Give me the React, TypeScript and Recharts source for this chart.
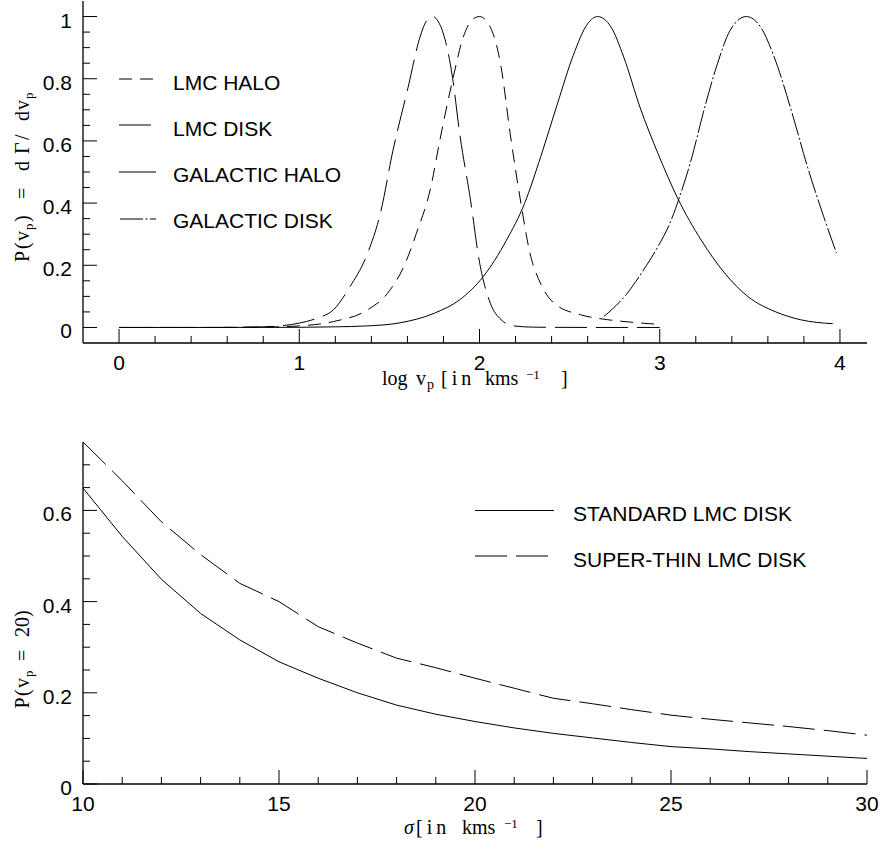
import React from 'react';
import { LineChart, Line, XAxis, YAxis } from 'recharts';

// ---------- TOP PANEL DATA (log v_p vs P(v_p)) ----------
const lmcHaloX = [0, 0.5, 0.8, 1.0, 1.19, 1.38, 1.49, 1.58, 1.65, 1.73, 1.78, 1.85, 1.91, 1.96, 2.0, 2.06, 2.12, 2.17, 2.23, 2.28, 2.34, 2.42, 2.56, 2.71, 2.84, 2.97];
const lmcHaloY = [0, 0, 0.001, 0.005, 0.019, 0.057, 0.11, 0.196, 0.303, 0.452, 0.602, 0.794, 0.934, 0.99, 1.0, 0.966, 0.837, 0.624, 0.399, 0.239, 0.14, 0.075, 0.041, 0.025, 0.017, 0.011];

const lmcDiskX = [0, 0.5, 0.8, 1.0, 1.1, 1.19, 1.28, 1.38, 1.45, 1.52, 1.6, 1.67, 1.7, 1.74, 1.77, 1.8, 1.85, 1.89, 1.95, 2.0, 2.06, 2.12, 2.19, 2.3, 2.6, 3.0];
const lmcDiskY = [0, 0, 0.002, 0.014, 0.03, 0.057, 0.13, 0.24, 0.367, 0.57, 0.763, 0.934, 0.98, 1.0, 0.985, 0.944, 0.805, 0.624, 0.41, 0.21, 0.078, 0.025, 0.005, 0.001, 0, 0];

const galHaloX = [0, 0.5, 1.0, 1.2, 1.38, 1.56, 1.75, 1.89, 2.02, 2.15, 2.25, 2.34, 2.43, 2.52, 2.6, 2.655, 2.73, 2.8, 2.89, 2.99, 3.1, 3.23, 3.36, 3.49, 3.64, 3.78, 3.96];
const galHaloY = [0, 0, 0.0005, 0.002, 0.005, 0.015, 0.046, 0.089, 0.163, 0.281, 0.399, 0.55, 0.715, 0.875, 0.977, 1.0, 0.966, 0.87, 0.709, 0.56, 0.415, 0.281, 0.175, 0.099, 0.051, 0.025, 0.012];

const galDiskX = [2.69, 2.82, 2.91, 2.99, 3.06, 3.11, 3.17, 3.25, 3.32, 3.39, 3.48, 3.56, 3.635, 3.73, 3.82, 3.91, 3.98];
const galDiskY = [0.035, 0.11, 0.185, 0.26, 0.34, 0.42, 0.53, 0.709, 0.848, 0.955, 1.0, 0.966, 0.87, 0.698, 0.516, 0.356, 0.24];

const topXTicks = [0, 0.2, 0.4, 0.6, 0.8, 1, 1.2, 1.4, 1.6, 1.8, 2, 2.2, 2.4, 2.6, 2.8, 3, 3.2, 3.4, 3.6, 3.8, 4];
const topXMajor = [0, 1, 2, 3, 4];
const topYTicks = [0, 0.05, 0.1, 0.15, 0.2, 0.25, 0.3, 0.35, 0.4, 0.45, 0.5, 0.55, 0.6, 0.65, 0.7, 0.75, 0.8, 0.85, 0.9, 0.95, 1];
const topYMajor = [0, 0.2, 0.4, 0.6, 0.8, 1];

const topLegendNames = ['LMC HALO', 'LMC DISK', 'GALACTIC HALO', 'GALACTIC DISK'];

// ---------- BOTTOM PANEL DATA (sigma vs P(v_p = 20)) ----------
const sigma = [10, 11, 12, 13, 14, 15, 16, 17, 18, 19, 20, 21, 22, 23, 24, 25, 26, 27, 28, 29, 30];
const standardDisk = [0.649, 0.543, 0.449, 0.374, 0.316, 0.268, 0.232, 0.2, 0.173, 0.153, 0.137, 0.123, 0.111, 0.101, 0.091, 0.082, 0.077, 0.071, 0.066, 0.061, 0.056];
const superThinDisk = [0.75, 0.665, 0.575, 0.503, 0.44, 0.4, 0.345, 0.309, 0.276, 0.255, 0.232, 0.21, 0.188, 0.176, 0.163, 0.151, 0.142, 0.134, 0.126, 0.117, 0.107];

const botXTicks = [10, 11, 12, 13, 14, 15, 16, 17, 18, 19, 20, 21, 22, 23, 24, 25, 26, 27, 28, 29, 30];
const botXMajor = [10, 15, 20, 25, 30];
const botYTicks = [0, 0.05, 0.1, 0.15, 0.2, 0.25, 0.3, 0.35, 0.4, 0.45, 0.5, 0.55, 0.6, 0.65, 0.7];
const botYMajor = [0, 0.2, 0.4, 0.6];

const botLegendNames = ['STANDARD LMC DISK', 'SUPER-THIN LMC DISK'];

// ---------- helpers ----------
const zip = (xs: number[], ys: number[]) => xs.map((x, i) => ({ x, y: ys[i] }));
const topSeries = {
  lmcHalo: zip(lmcHaloX, lmcHaloY),
  lmcDisk: zip(lmcDiskX, lmcDiskY),
  galHalo: zip(galHaloX, galHaloY),
  galDisk: zip(galDiskX, galDiskY),
};
const botData = sigma.map((s, i) => ({ s, std: standardDisk[i], thin: superThinDisk[i] }));

const SANS = '"Liberation Sans", Arial, Helvetica, sans-serif';
const SERIF = '"Liberation Serif", "Times New Roman", serif';
const INK = '#000';

const DASH_LMC_HALO = '13 8';
const DASH_LMC_DISK = '32 9';
const DASH_GAL_DISK = '23 2.5 2 2.5';

const fmt = (v: number) => String(Number(v.toFixed(2)));
const isMajor = (v: number, majors: number[]) => majors.some((m) => Math.abs(m - v) < 1e-6);

const makeTick = (side: 'bottom' | 'top' | 'left' | 'right', majors: number[], showLabel: boolean) =>
  (props: any) => {
    const { x, y, payload } = props;
    const v = payload.value as number;
    const major = isMajor(v, majors);
    const len = major ? 14 : 7;
    let line;
    let label = null;
    if (side === 'bottom') {
      line = <line x1={x} y1={y} x2={x} y2={y - len} stroke={INK} strokeWidth={1} />;
      if (major && showLabel)
        label = (
          <text x={x} y={y + 27} textAnchor="middle" fontFamily={SANS} fontSize={21} fill={INK}>
            {fmt(v)}
          </text>
        );
    } else if (side === 'top') {
      line = <line x1={x} y1={y} x2={x} y2={y + len} stroke={INK} strokeWidth={1} />;
    } else if (side === 'left') {
      line = <line x1={x} y1={y} x2={x + len} y2={y} stroke={INK} strokeWidth={1} />;
      if (major && showLabel)
        label = (
          <text x={x - 11} y={y + 11} textAnchor="end" fontFamily={SANS} fontSize={21} fill={INK}>
            {fmt(v)}
          </text>
        );
    } else {
      line = <line x1={x} y1={y} x2={x - len} y2={y} stroke={INK} strokeWidth={1} />;
    }
    return (
      <g>
        {line}
        {label}
      </g>
    );
  };

const axisLine = { stroke: INK, strokeWidth: 1.3 };

const TopChart = () => (
  <LineChart width={881} height={400} margin={{ top: 1, right: 14, bottom: 0, left: 0 }}>
    <XAxis
      xAxisId={0}
      type="number"
      dataKey="x"
      domain={[-0.2, 4.15]}
      allowDataOverflow
      ticks={topXTicks}
      interval={0}
      height={57}
      tickSize={0}
      tickMargin={0}
      tickLine={false}
      axisLine={axisLine}
      tick={makeTick('bottom', topXMajor, true)}
    />
    <XAxis
      xAxisId="top"
      orientation="top"
      type="number"
      dataKey="x"
      domain={[-0.2, 4.15]}
      allowDataOverflow
      ticks={topXTicks}
      interval={0}
      height={0}
      tickSize={0}
      tickMargin={0}
      tickLine={false}
      axisLine={axisLine}
      tick={makeTick('top', topXMajor, false)}
    />
    <YAxis
      yAxisId={0}
      type="number"
      domain={[-0.05, 1.05]}
      allowDataOverflow
      ticks={topYTicks}
      interval={0}
      width={83}
      tickSize={0}
      tickMargin={0}
      tickLine={false}
      axisLine={axisLine}
      tick={makeTick('left', topYMajor, true)}
    />
    <YAxis
      yAxisId="right"
      orientation="right"
      type="number"
      domain={[-0.05, 1.05]}
      allowDataOverflow
      ticks={topYTicks}
      interval={0}
      width={0}
      tickSize={0}
      tickMargin={0}
      tickLine={false}
      axisLine={axisLine}
      tick={makeTick('right', topYMajor, false)}
    />
    <Line data={topSeries.lmcHalo} dataKey="y" name={topLegendNames[0]} type="monotone" stroke={INK} strokeWidth={1} strokeDasharray={DASH_LMC_HALO} dot={false} isAnimationActive={false} />
    <Line data={topSeries.lmcDisk} dataKey="y" name={topLegendNames[1]} type="monotone" stroke={INK} strokeWidth={1} strokeDasharray={DASH_LMC_DISK} dot={false} isAnimationActive={false} />
    <Line data={topSeries.galHalo} dataKey="y" name={topLegendNames[2]} type="monotone" stroke={INK} strokeWidth={1} dot={false} isAnimationActive={false} />
    <Line data={topSeries.galDisk} dataKey="y" name={topLegendNames[3]} type="monotone" stroke={INK} strokeWidth={1} strokeDasharray={DASH_GAL_DISK} dot={false} isAnimationActive={false} />

    {/* legend */}
    <g>
      <line x1={119} y1={79} x2={154} y2={79} stroke={INK} strokeWidth={1} strokeDasharray={DASH_LMC_HALO} />
      <line x1={119} y1={125} x2={151} y2={125} stroke={INK} strokeWidth={1} strokeDasharray={DASH_LMC_DISK} />
      <line x1={119} y1={172} x2={156} y2={172} stroke={INK} strokeWidth={1} />
      <line x1={120} y1={219} x2={156} y2={219} stroke={INK} strokeWidth={1} strokeDasharray={DASH_GAL_DISK} />
      {topLegendNames.map((n, i) => (
        <text key={n} x={173} y={89.5 + i * 46.3} fontFamily={SANS} fontSize={21} fill={INK}>
          {n}
        </text>
      ))}
    </g>

    {/* x axis label */}
    <text y={385} fontFamily={SERIF} fontSize={20} fill={INK}>
      <tspan x={382}>log</tspan>
      <tspan x={416}>v</tspan>
      <tspan x={427} y={389} fontSize={14}>p</tspan>
      <tspan x={441} y={385} letterSpacing={4}>[in</tspan>
      <tspan x={485}>kms</tspan>
      <tspan x={526} y={379} fontSize={13}>−1</tspan>
      <tspan x={561} y={385}>]</tspan>
    </text>

    {/* y axis label */}
    <g transform="translate(28.5,0) rotate(-90)">
      <text y={0} fontFamily={SERIF} fontSize={20} fill={INK}>
        <tspan x={-262}>P</tspan>
        <tspan x={-249}>(</tspan>
        <tspan x={-241}>v</tspan>
        <tspan x={-230} y={4} fontSize={13}>p</tspan>
        <tspan x={-222} y={0}>)</tspan>
        <tspan x={-199}>=</tspan>
        <tspan x={-171}>d</tspan>
        <tspan x={-154}>Γ</tspan>
        <tspan x={-140}>/</tspan>
        <tspan x={-121}>d</tspan>
        <tspan x={-110}>v</tspan>
        <tspan x={-99} y={4} fontSize={13}>p</tspan>
      </text>
    </g>
  </LineChart>
);

const BottomChart = () => (
  <LineChart width={881} height={423} data={botData} margin={{ top: 22, right: 14, bottom: 0, left: 0 }}>
    <XAxis
      xAxisId={0}
      type="number"
      dataKey="s"
      domain={[10, 30]}
      allowDataOverflow
      ticks={botXTicks}
      interval={0}
      height={59}
      tickSize={0}
      tickMargin={0}
      tickLine={false}
      axisLine={axisLine}
      tick={makeTick('bottom', botXMajor, true)}
    />
    <XAxis
      xAxisId="top"
      orientation="top"
      type="number"
      dataKey="s"
      domain={[10, 30]}
      allowDataOverflow
      ticks={botXTicks}
      interval={0}
      height={0}
      tickSize={0}
      tickMargin={0}
      tickLine={false}
      axisLine={axisLine}
      tick={makeTick('top', botXMajor, false)}
    />
    <YAxis
      yAxisId={0}
      type="number"
      domain={[0, 0.75]}
      allowDataOverflow
      ticks={botYTicks}
      interval={0}
      width={83}
      tickSize={0}
      tickMargin={0}
      tickLine={false}
      axisLine={axisLine}
      tick={makeTick('left', botYMajor, true)}
    />
    <YAxis
      yAxisId="right"
      orientation="right"
      type="number"
      domain={[0, 0.75]}
      allowDataOverflow
      ticks={botYTicks}
      interval={0}
      width={0}
      tickSize={0}
      tickMargin={0}
      tickLine={false}
      axisLine={axisLine}
      tick={makeTick('right', botYMajor, false)}
    />
    <Line dataKey="std" name={botLegendNames[0]} type="linear" stroke={INK} strokeWidth={1} dot={false} isAnimationActive={false} />
    <Line dataKey="thin" name={botLegendNames[1]} type="linear" stroke={INK} strokeWidth={1} strokeDasharray={DASH_LMC_DISK} dot={false} isAnimationActive={false} />

    {/* legend */}
    <g>
      <line x1={475} y1={90.5} x2={554} y2={90.5} stroke={INK} strokeWidth={1} />
      <line x1={475} y1={136} x2={548} y2={136} stroke={INK} strokeWidth={1} strokeDasharray={DASH_LMC_DISK} />
      {botLegendNames.map((n, i) => (
        <text key={n} x={573} y={100.7 + i * 46} fontFamily={SANS} fontSize={21} fill={INK}>
          {n}
        </text>
      ))}
    </g>

    {/* x axis label */}
    <text y={414} fontFamily={SERIF} fontSize={20} fill={INK}>
      <tspan x={404} fontStyle="italic">σ</tspan>
      <tspan x={416} letterSpacing={4}>[in</tspan>
      <tspan x={462}>kms</tspan>
      <tspan x={504} y={408} fontSize={13}>−1</tspan>
      <tspan x={536} y={414}>]</tspan>
    </text>

    {/* y axis label */}
    <g transform="translate(28.5,0) rotate(-90)">
      <text y={0} fontFamily={SERIF} fontSize={20} fill={INK}>
        <tspan x={-288.5}>P</tspan>
        <tspan x={-276}>(</tspan>
        <tspan x={-268}>v</tspan>
        <tspan x={-257} y={4} fontSize={13}>p</tspan>
        <tspan x={-241} y={0}>=</tspan>
        <tspan x={-217}>20</tspan>
        <tspan x={-197}>)</tspan>
      </text>
    </g>
  </LineChart>
);

export default function App() {
  return (
    <div style={{ position: 'absolute', left: 0, top: 0, width: 881, height: 843, background: '#fff' }}>
      <div style={{ position: 'absolute', left: 0, top: 0 }}>
        <TopChart />
      </div>
      <div style={{ position: 'absolute', left: 0, top: 420 }}>
        <BottomChart />
      </div>
    </div>
  );
}
